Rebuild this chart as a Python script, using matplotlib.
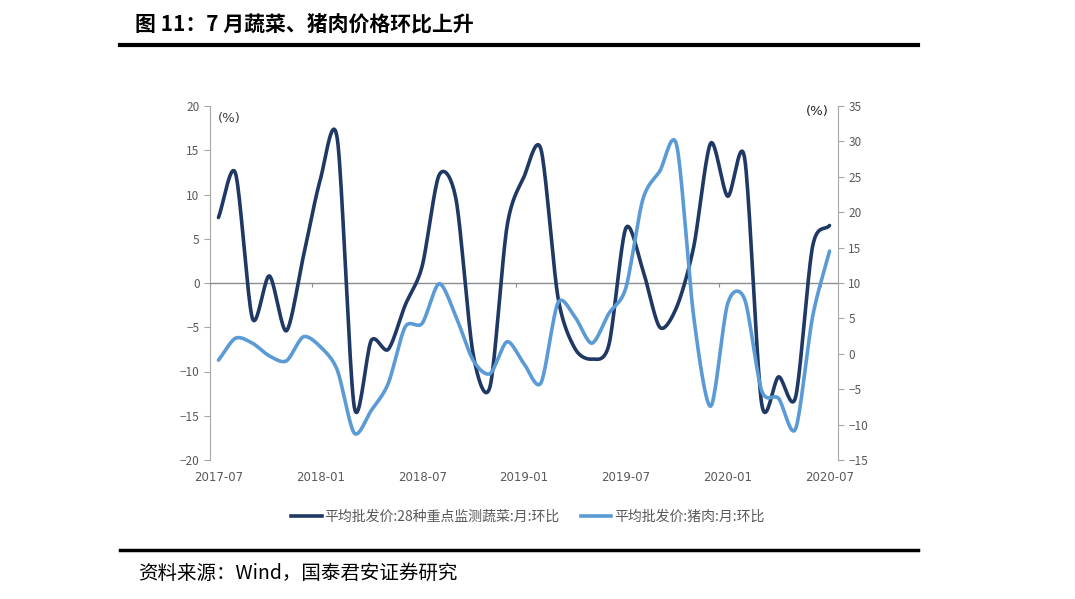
import numpy as np
import matplotlib
matplotlib.use("Agg")
import matplotlib.pyplot as plt
from matplotlib.lines import Line2D
from matplotlib import transforms

plt.rcParams['font.family'] = ['Noto Sans CJK SC', 'DejaVu Sans']

# ---------------- data ----------------
months = ["2017-07", "2017-08", "2017-09", "2017-10", "2017-11", "2017-12",
          "2018-01", "2018-02", "2018-03", "2018-04", "2018-05", "2018-06",
          "2018-07", "2018-08", "2018-09", "2018-10", "2018-11", "2018-12",
          "2019-01", "2019-02", "2019-03", "2019-04", "2019-05", "2019-06",
          "2019-07", "2019-08", "2019-09", "2019-10", "2019-11", "2019-12",
          "2020-01", "2020-02", "2020-03", "2020-04", "2020-05", "2020-06",
          "2020-07"]
vegetables = [7.4, 12.4, -4.0, 0.8, -5.4, 3.0, 11.7, 16.3, -14.0, -6.5,
              -7.5, -2.5, 1.9, 12.2, 9.4, -8.0, -11.7, 6.4, 12.0, 15.1,
              -1.6, -7.4, -8.6, -7.0, 6.2, 1.5, -5.0, -2.7, 4.1, 15.8,
              9.8, 14.1, -13.6, -10.6, -12.9, 4.1, 6.5]
pork = [-0.9, 2.2, 1.5, -0.3, -1.0, 2.4, 1.0, -2.3, -11.2, -8.0,
        -4.2, 3.8, 4.3, 9.9, 5.2, -0.9, -2.8, 1.7, -1.4, -4.1,
        7.2, 5.2, 1.5, 5.7, 9.3, 21.8, 25.8, 29.4, 5.2, -7.4,
        7.1, 7.7, -5.2, -6.3, -10.6, 5.2, 14.5]
label_veg = "平均批发价:28种重点监测蔬菜:月:环比"
label_pork = "平均批发价:猪肉:月:环比"
xtick_labels = ["2017-07", "2018-01", "2018-07", "2019-01", "2019-07", "2020-01", "2020-07"]
title = "图 11：7 月蔬菜、猪肉价格环比上升"
source = "资料来源：Wind，国泰君安证券研究"

DARK = "#1F3864"
LIGHT = "#5B9BD5"
GRAY = "#595959"
AXGRAY = "#A6A6A6"


def smooth(y, n=20, k=0.14):
    """Excel-style smoothed line drawing (Bezier through every point)."""
    y = np.asarray(y, float)
    x = np.arange(len(y), dtype=float)
    P = np.column_stack([x, y])
    out = [P[0]]
    t = np.linspace(0, 1, n + 1)[1:]
    for i in range(len(P) - 1):
        p1 = P[i]
        p2 = P[i + 1]
        p0 = P[i - 1] if i > 0 else 2 * p1 - p2
        p3 = P[i + 2] if i + 2 < len(P) else 2 * p2 - p1
        c1 = p1 + (p2 - p0) * k
        c2 = p2 - (p3 - p1) * k
        for tt in t:
            b = ((1 - tt) ** 3) * p1 + 3 * ((1 - tt) ** 2) * tt * c1 + 3 * (1 - tt) * tt ** 2 * c2 + tt ** 3 * p2
            out.append(b)
    out = np.array(out)
    return out[:, 0], out[:, 1]


fig = plt.figure(figsize=(10.75, 5.99), dpi=100)
W, H = 1075, 599
ax = fig.add_axes([210 / W, (H - 460) / H, (838 - 210) / W, (460 - 106) / H])
ax2 = ax.twinx()

n = len(months)
ax.set_xlim(-0.5, n - 0.5)
ax.set_ylim(-20, 20)
ax2.set_ylim(-15, 35)
ax.set_yticks(np.arange(-20, 21, 5))
ax2.set_yticks(np.arange(-15, 36, 5))

xs, ys = smooth(vegetables)
ax.plot(xs, ys, color=DARK, lw=2.6, solid_capstyle='round', zorder=3)
xs2, ys2 = smooth(pork)
ax2.plot(xs2, ys2, color=LIGHT, lw=2.6, solid_capstyle='round', zorder=3)

# spines
for a in (ax, ax2):
    a.spines['top'].set_visible(False)
    a.patch.set_visible(False)
ax.spines['right'].set_visible(False)
ax2.spines['left'].set_visible(False)
ax2.spines['bottom'].set_visible(False)
ax.spines['left'].set_color(AXGRAY)
ax2.spines['right'].set_color(AXGRAY)
ax.spines['bottom'].set_position(('data', 0))
ax.spines['bottom'].set_color("#8C8C8C")
ax.spines['bottom'].set_linewidth(1.0)

ax.tick_params(axis='y', colors=AXGRAY, labelcolor=GRAY, labelsize=8.5, length=4, direction='out')
ax2.tick_params(axis='y', colors=AXGRAY, labelcolor=GRAY, labelsize=8.5, length=4, direction='out')

# x ticks at category boundaries, every 6 months, on the zero line
tick_idx = [months.index(m) for m in xtick_labels]
ax.set_xticks([i - 0.5 for i in tick_idx])
ax.set_xticklabels([])
ax.tick_params(axis='x', colors="#8C8C8C", length=3, direction='out')
trans = transforms.blended_transform_factory(ax.transData, ax.transAxes)
for i, lab in zip(tick_idx, xtick_labels):
    ax.text(i, -0.05, lab, transform=trans, ha='center', va='center', fontsize=8.5,
            color=GRAY, family=['DejaVu Sans'])

# unit labels
ax.text(0.012, 0.965, "(%)", transform=ax.transAxes, ha='left', va='center', fontsize=9.5,
        color="#404040", family=['DejaVu Sans'])
ax.text(0.985, 0.985, "(%)", transform=ax.transAxes, ha='right', va='center', fontsize=9.5,
        color="#262626", family=['DejaVu Sans'])

# legend
handles = [Line2D([], [], color=DARK, lw=2.6), Line2D([], [], color=LIGHT, lw=2.6)]
leg = fig.legend(handles, [label_veg, label_pork], loc='center', bbox_to_anchor=(0.491, 1 - 517 / H),
                 ncol=2, frameon=False, fontsize=10, handlelength=2.2, handletextpad=0.2,
                 columnspacing=1.5, labelcolor=GRAY)

# title and rules
fig.text(135 / W, 1 - 24 / H, title, ha='left', va='center', fontsize=15, fontweight='bold', color='black')
fig.add_artist(Line2D([120 / W, 918 / W], [1 - 45 / H, 1 - 45 / H], color='black', lw=3.0))
fig.add_artist(Line2D([120 / W, 918 / W], [1 - 550 / H, 1 - 550 / H], color='black', lw=2.5))
fig.text(138 / W, 1 - 573 / H, source, ha='left', va='center', fontsize=14, color='black')

fig.savefig("out.png", dpi=100)
